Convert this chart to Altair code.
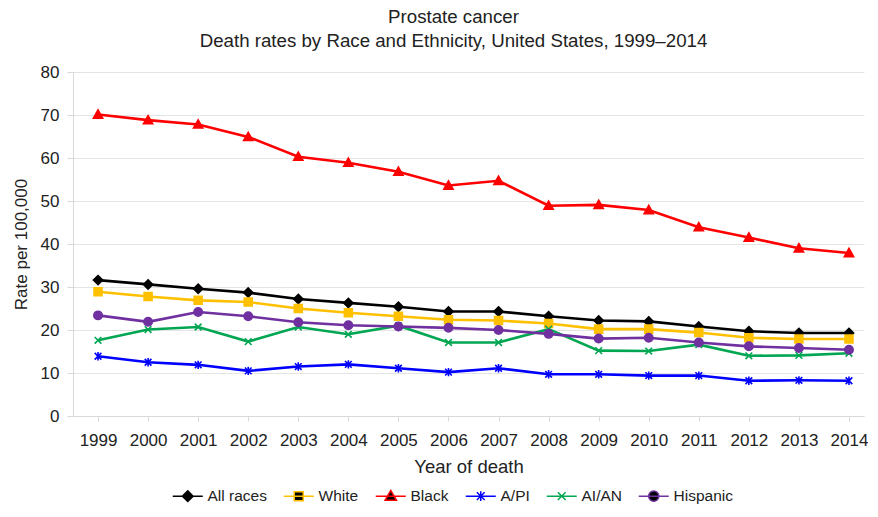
import altair as alt
import pandas as pd

years = list(range(1999, 2015))
series_names = ["All races", "White", "Black", "A/PI", "AI/AN", "Hispanic"]
all_races = [31.6, 30.6, 29.6, 28.7, 27.2, 26.3, 25.4, 24.3, 24.3, 23.2, 22.2, 22.0, 20.8, 19.7, 19.3, 19.3]
white =     [28.9, 27.8, 26.9, 26.5, 25.0, 24.0, 23.2, 22.4, 22.2, 21.5, 20.2, 20.2, 19.4, 18.2, 17.9, 17.9]
black =     [70.1, 68.8, 67.8, 64.9, 60.3, 58.9, 56.8, 53.6, 54.7, 48.9, 49.1, 47.9, 43.9, 41.5, 39.0, 37.9]
api =       [13.9, 12.5, 11.9, 10.5, 11.5, 12.0, 11.1, 10.2, 11.1, 9.7, 9.7, 9.4, 9.4, 8.2, 8.3, 8.2]
aian =      [17.6, 20.1, 20.7, 17.3, 20.7, 19.0, 21.0, 17.1, 17.1, 20.2, 15.2, 15.1, 16.6, 14.0, 14.1, 14.6]
hispanic =  [23.4, 21.9, 24.2, 23.2, 21.8, 21.1, 20.8, 20.5, 20.0, 19.1, 18.0, 18.2, 17.1, 16.2, 15.8, 15.4]

colors = ["#000000", "#FFC000", "#FF0000", "#0000FF", "#00A651", "#7030A0"]

# marker shapes in the unit square (chart) and their legend versions (line + small marker)
marker_paths = [
    "M0,-1.1L1.1,0L0,1.1L-1.1,0Z",
    "M-0.95,-0.95L0.95,-0.95L0.95,0.95L-0.95,0.95Z",
    "M0,-1.1L1.1,0.85L-1.1,0.85Z",
    "M-0.8,-0.8L0.8,0.8M-0.8,0.8L0.8,-0.8M0,-1L0,1",
    "M-0.8,-0.8L0.8,0.8M-0.8,0.8L0.8,-0.8",
    "M-1,0A1,1,0,1,1,1,0A1,1,0,1,1,-1,0Z",
]
legend_paths = [
    "M-2.5,0L2.5,0M0,-0.9L0.9,0L0,0.9L-0.9,0Z",
    "M-2.5,0L2.5,0M-0.75,-0.75L0.75,-0.75L0.75,0.75L-0.75,0.75Z",
    "M-2.5,0L2.5,0M0,-0.95L0.95,0.7L-0.95,0.7Z",
    "M-2.5,0L2.5,0M-0.65,-0.65L0.65,0.65M-0.65,0.65L0.65,-0.65M0,-0.8L0,0.8",
    "M-2.5,0L2.5,0M-0.65,-0.65L0.65,0.65M-0.65,0.65L0.65,-0.65",
    "M-2.5,0L2.5,0M-0.85,0A0.85,0.85,0,1,1,0.85,0A0.85,0.85,0,1,1,-0.85,0Z",
]

values = [all_races, white, black, api, aian, hispanic]
rows = []
for name, vals in zip(series_names, values):
    for y, v in zip(years, vals):
        rows.append({"Year": y, "Series": name, "Marker": name, "Rate": v})
df = pd.DataFrame(rows)

x = alt.X("Year:Q", title="Year of death",
          scale=alt.Scale(domain=[1998.5, 2014.3], nice=False, zero=False),
          axis=alt.Axis(values=years, format="d", grid=False, labelFontSize=17,
                        titleFontSize=18.5, titleFontWeight="normal", labelPadding=11,
                        titlePadding=9, tickColor="#d9d9d9", domainColor="#d9d9d9",
                        tickSize=5, labelColor="#222", titleColor="#222"))
y = alt.Y("Rate:Q", title="Rate per 100,000",
          scale=alt.Scale(domain=[0, 80], nice=False),
          axis=alt.Axis(values=list(range(0, 81, 10)), grid=True, gridColor="#e4e4e4",
                        labelFontSize=17, titleFontSize=17, titleFontWeight="normal",
                        tickColor="#d9d9d9", domainColor="#d9d9d9", tickSize=6,
                        labelPadding=8, titlePadding=10, labelColor="#222", titleColor="#222"))

legend = alt.Legend(
    title=None, orient="none", direction="horizontal", legendX=107, legendY=416,
    symbolSize=144, labelFontSize=15.5, labelColor="#222", labelOffset=12, columnPadding=13,
    padding=0, symbolOpacity=1,
)

base = alt.Chart(df)
lines = base.mark_line(strokeWidth=2.6).encode(
    x=x, y=y,
    stroke=alt.Stroke("Marker:N", scale=alt.Scale(domain=series_names, range=colors), legend=None),
)
points = base.mark_point(filled=True, size=70, strokeWidth=1.6, opacity=1).encode(
    x=x, y=y,
    fill=alt.Fill("Marker:N", scale=alt.Scale(domain=series_names, range=colors), legend=None),
    stroke=alt.Stroke("Marker:N", scale=alt.Scale(domain=series_names, range=colors), legend=None),
    shape=alt.Shape("Marker:N", scale=alt.Scale(domain=series_names, range=marker_paths), legend=None),
)
# legend-only layer: no marks drawn, only the legend built from the scales
legend_layer = base.transform_filter("false").mark_point(filled=True, strokeWidth=2.6, opacity=1).encode(
    x=x, y=y,
    color=alt.Color("Series:N", scale=alt.Scale(domain=series_names, range=colors), legend=legend),
    stroke=alt.Stroke("Series:N", scale=alt.Scale(domain=series_names, range=colors), legend=legend),
    shape=alt.Shape("Series:N", scale=alt.Scale(domain=series_names, range=legend_paths), legend=legend),
)

chart = alt.layer(lines, points, legend_layer).resolve_scale(
    shape="independent", stroke="independent"
).properties(
    width=791, height=344,
    padding={"left": 4, "top": 0, "right": 0, "bottom": 0},
    title=alt.TitleParams(
        text=["Prostate cancer", "Death rates by Race and Ethnicity, United States, 1999–2014"],
        fontSize=18.7, fontWeight="normal", color="#222", anchor="middle", offset=12,
        lineHeight=24, dx=-15,
    ),
).configure(font="Liberation Sans").configure_view(stroke=None)

chart.save("out.html", embed_options={"renderer": "svg", "actions": False})
